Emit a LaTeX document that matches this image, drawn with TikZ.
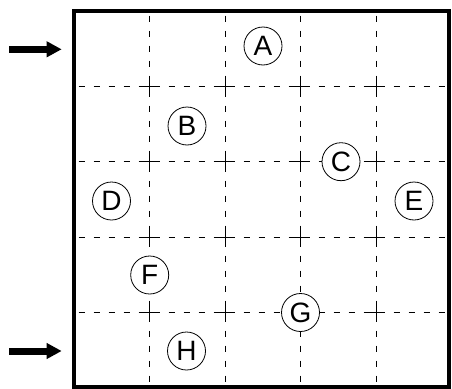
\documentclass[tikz,border=0pt]{standalone}
\usepackage{fontspec}
\setmainfont{Liberation Sans}
\usetikzlibrary{arrows.meta}
\tikzset{
  gridline/.style={line width=0.8pt, dash pattern=on 6pt off 9pt, dash phase=10.5pt},
  crossmark/.style={line width=0.8pt},
  frame/.style={line width=4.5pt},
  station/.style={circle, draw, fill=white, line width=0.8pt, minimum size=38pt, inner sep=0pt,
     font=\fontsize{28}{30}\selectfont},
  entry/.style={line width=7pt, -{Triangle[length=15pt,width=15pt]}}
}
\begin{document}
\begin{tikzpicture}[x=1pt,y=-1pt]
\useasboundingbox (0,0) rectangle (452,388);
% grid
\foreach \x in {149.7,225,300.5,376}
  \draw[gridline] (\x,11) -- (\x,387.5);
\foreach \y in {86,161.7,237,312.5}
  \draw[gridline] (74,\y) -- (449,\y);
\foreach \x in {149.7,225,300.5,376}
  \foreach \y in {86,161.7,237,312.5}
    \draw[crossmark] (\x-6,\y) -- (\x+6,\y) (\x,\y-6) -- (\x,\y+6);
% frame
\draw[frame] (74,11) rectangle (449,387.5);
% stations
\node[station] (A) at (263,46) {A};
\node[station] (B) at (187,126) {B};
\node[station] (C) at (341,161.7) {C};
\node[station] (D) at (111.5,201) {D};
\node[station] (E) at (414,201) {E};
\node[station] (F) at (149.7,275) {F};
\node[station] (G) at (300.5,312.5) {G};
\node[station] (H) at (186.5,351) {H};
% entry arrows
\coordinate (in1s) at (9,49.3);
\coordinate (in1e) at (61.7,49.3);
\coordinate (in2s) at (9,351);
\coordinate (in2e) at (61.7,351);
\draw[entry] (in1s) -- (in1e);
\draw[entry] (in2s) -- (in2e);
\end{tikzpicture}
\end{document}
